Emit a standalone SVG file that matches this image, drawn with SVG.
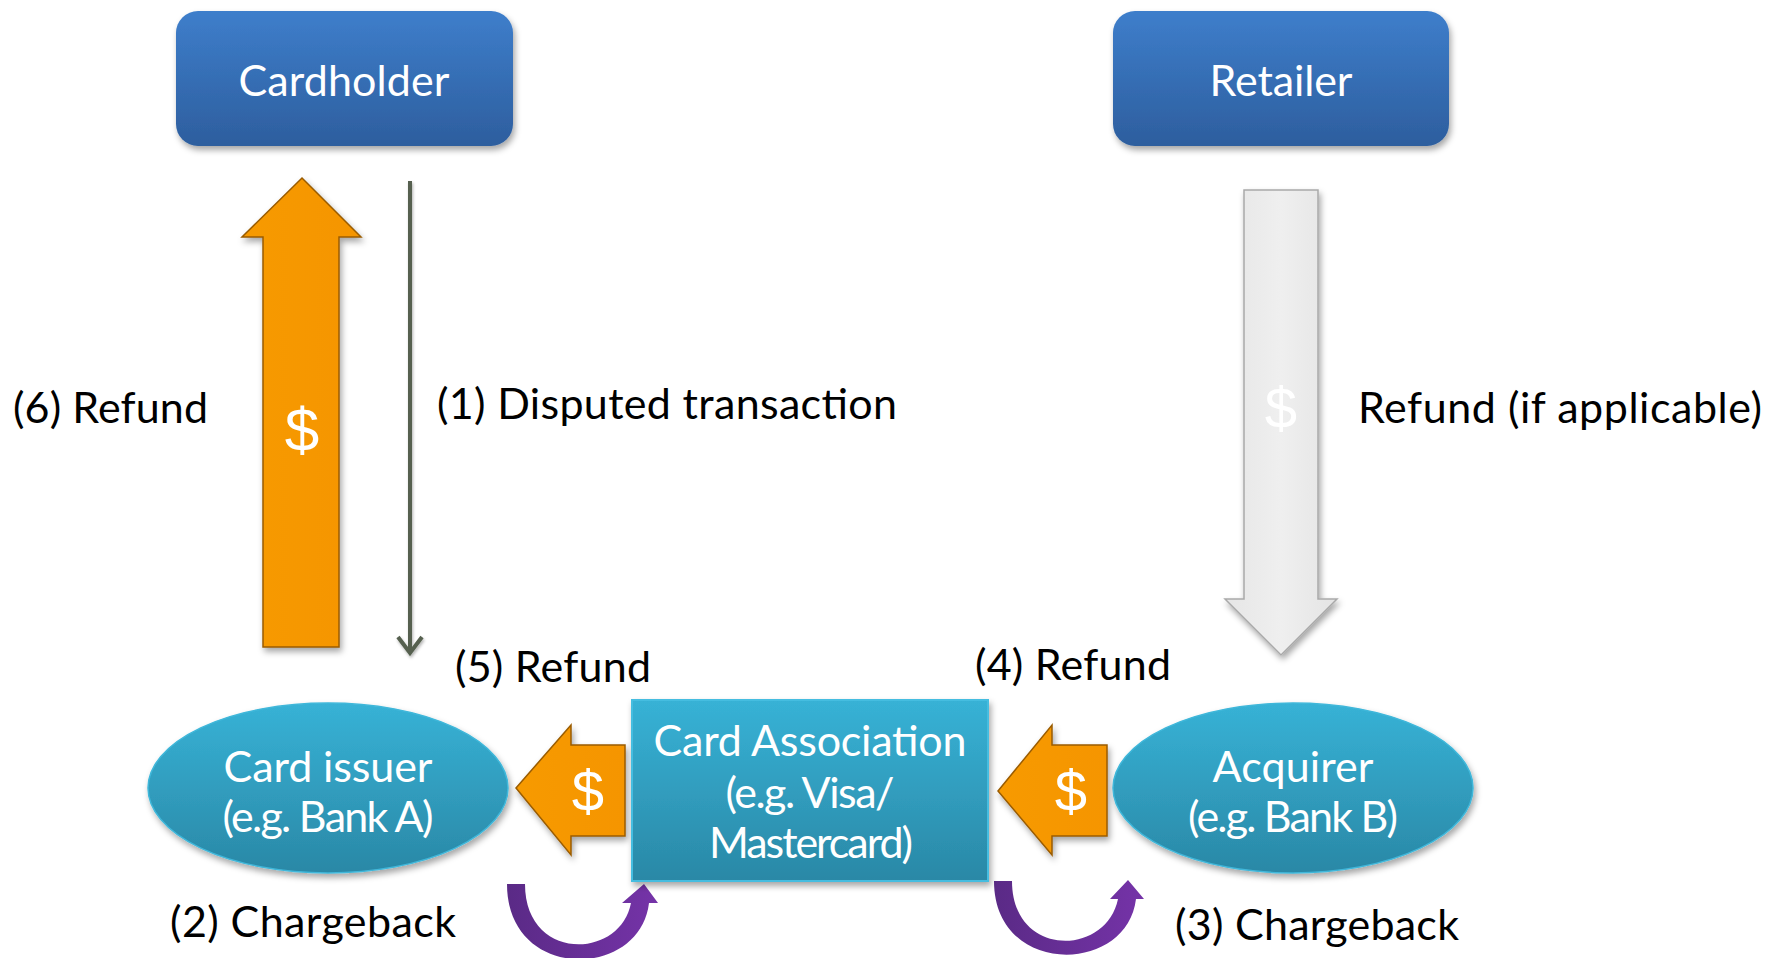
<svg xmlns="http://www.w3.org/2000/svg" width="1771" height="958" viewBox="0 0 1771 958">
<style>
.lbl{font-family:Lato,"Open Sans","DejaVu Sans",sans-serif;font-size:43px;fill:#000}
.ntx{font-family:Lato,"Open Sans","DejaVu Sans",sans-serif;font-size:43px;fill:#fff;text-anchor:middle}
.dol{font-family:"Liberation Sans",Arial,sans-serif;fill:#fff;text-anchor:middle}
.orange{fill:url(#gOr);stroke:#9a5c00;stroke-width:1.5;filter:url(#sh)}
.purple{fill:url(#gPu);stroke:none}
</style>
<defs>
<linearGradient id="gBlue" x1="0" y1="0" x2="0" y2="1"><stop offset="0" stop-color="#3e7ecb"/><stop offset="1" stop-color="#2d5e9e"/></linearGradient>
<linearGradient id="gTeal" x1="0" y1="0" x2="0" y2="1"><stop offset="0" stop-color="#37b2d6"/><stop offset="1" stop-color="#2a88a6"/></linearGradient>
<linearGradient id="gOr" x1="0" y1="0" x2="1" y2="0"><stop offset="0" stop-color="#f79a00"/><stop offset="1" stop-color="#f59500"/></linearGradient>
<linearGradient id="gGray" x1="0" y1="0" x2="1" y2="0"><stop offset="0" stop-color="#e6e6e6"/><stop offset="0.5" stop-color="#efefef"/><stop offset="1" stop-color="#e4e4e4"/></linearGradient>
<linearGradient id="gPu" x1="0" y1="0" x2="1" y2="0"><stop offset="0" stop-color="#5a2a86"/><stop offset="1" stop-color="#7533a8"/></linearGradient>
<filter id="sh" x="-20%" y="-20%" width="140%" height="140%"><feDropShadow dx="2" dy="4" stdDeviation="3" flood-color="#000" flood-opacity="0.35"/></filter>
<filter id="shs" x="-50%" y="-5%" width="200%" height="110%"><feDropShadow dx="1" dy="2" stdDeviation="1.5" flood-color="#000" flood-opacity="0.3"/></filter>
</defs>

<g id="connectors">
  <polygon id="arrow6" class="orange" points="302,178 361,237 339,237 339,647 263,647 263,237 242,237"/>
  <text class="dol" x="302" y="451" font-size="62">$</text>
  <g id="arrow1" filter="url(#shs)">
    <line x1="410" y1="181" x2="410" y2="651" stroke="#56614f" stroke-width="4"/>
    <polyline points="398,637 410,653 422,637" fill="none" stroke="#56614f" stroke-width="4" stroke-linejoin="miter"/>
  </g>
  <polygon id="arrowRetailer" fill="url(#gGray)" stroke="#a9a9a9" stroke-width="1.5" filter="url(#sh)" points="1244,190 1318,190 1318,599 1337,599 1281,655 1225,599 1244,599"/>
  <text class="dol" x="1281" y="428" font-size="58" fill="#fafafa">$</text>
  <polygon id="arrow5" class="orange" points="516,788 571,725 571,745 625,745 625,836 571,836 571,855"/>
  <text class="dol" x="588" y="811" font-size="58">$</text>
  <polygon id="arrow4" class="orange" points="998,791 1052,725 1052,745 1107,745 1107,836 1052,836 1052,855"/>
  <text class="dol" x="1071" y="811" font-size="58">$</text>
  <path id="arrow2" class="purple" d="M507,884 L525,884 C525,962 620,960 631,903 L622,903 L644,884 L658,903 L649,903 C640,980 507,982 507,884 Z"/>
  <path id="arrow3" class="purple" d="M994,881 L1012,881 C1012,958 1106,957 1118,899 L1110,899 L1128,880 L1144,899 L1136,899 C1127,975 994,977 994,881 Z"/>
</g>

<g id="cardholder">
  <rect x="176" y="11" width="337" height="135" rx="22" fill="url(#gBlue)" filter="url(#sh)"/>
  <text class="ntx" x="344" y="96" textLength="211">Cardholder</text>
</g>
<g id="retailer">
  <rect x="1113" y="11" width="336" height="135" rx="22" fill="url(#gBlue)" filter="url(#sh)"/>
  <text class="ntx" x="1281" y="96" textLength="143">Retailer</text>
</g>
<g id="cardissuer">
  <ellipse cx="328" cy="788" rx="180" ry="85" fill="url(#gTeal)" stroke="#3fb7da" stroke-width="1.5" filter="url(#sh)"/>
  <text class="ntx" x="328" y="782" textLength="209">Card issuer</text>
  <text class="ntx" x="328" y="832" textLength="211">(e.g. Bank A)</text>
</g>
<g id="cardassociation">
  <rect x="632" y="700" width="356" height="181" fill="url(#gTeal)" stroke="#44bde0" stroke-width="2" filter="url(#sh)"/>
  <text class="ntx" x="810" y="756" textLength="313">Card Association</text>
  <text class="ntx" x="810" y="808" textLength="169">(e.g. Visa/</text>
  <text class="ntx" x="811" y="858" textLength="204">Mastercard)</text>
</g>
<g id="acquirer">
  <ellipse cx="1293" cy="788" rx="180" ry="85" fill="url(#gTeal)" stroke="#3fb7da" stroke-width="1.5" filter="url(#sh)"/>
  <text class="ntx" x="1293" y="782" textLength="161">Acquirer</text>
  <text class="ntx" x="1293" y="832" textLength="210">(e.g. Bank B)</text>
</g>

<g id="labels">
  <text class="lbl" x="13" y="423" textLength="195">(6) Refund</text>
  <text class="lbl" x="437" y="419" textLength="460">(1) Disputed transaction</text>
  <text class="lbl" x="1358" y="423" textLength="404">Refund (if applicable)</text>
  <text class="lbl" x="455" y="682" textLength="196">(5) Refund</text>
  <text class="lbl" x="975" y="680" textLength="196">(4) Refund</text>
  <text class="lbl" x="170" y="937" textLength="286">(2) Chargeback</text>
  <text class="lbl" x="1175" y="940" textLength="284">(3) Chargeback</text>
</g>
</svg>
